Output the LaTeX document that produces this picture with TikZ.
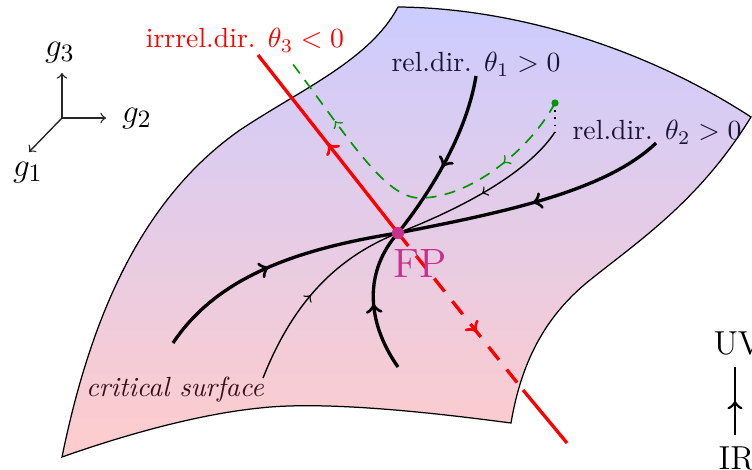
\documentclass[tikz,border=0pt]{standalone}
\usetikzlibrary{decorations.markings}
\definecolor{fpcol}{RGB}{200,48,140}
\definecolor{reltext}{RGB}{25,20,55}
\definecolor{crittext}{RGB}{55,15,25}
\definecolor{grn}{RGB}{0,150,0}
\begin{document}
\begin{tikzpicture}[x=0.361pt,y=-0.361pt,
  thickflow/.style={line width=1.2pt},
  thinflow/.style={line width=0.5pt},
  redline/.style={red,line width=1.2pt},
  reddash/.style={dash pattern=on 6pt off 4.5pt},
  greenflow/.style={grn,line width=0.6pt,dash pattern=on 4pt off 3pt},
  axisline/.style={black!85,line width=0.5pt,->},
  midarrow/.style={postaction={decorate},decoration={markings,mark=at position #1 with {\arrow{>}}}},
  twoarrows/.style 2 args={postaction={decorate},decoration={markings,mark=at position #1 with {\arrow{>}},mark=at position #2 with {\arrow{>}}}},
  lbl/.style={anchor=base,inner sep=0pt},
  dotnode/.style={circle,inner sep=0pt},
]
\clip (0,0) rectangle (752,470);

% surface
\shadedraw[top color=blue!20, bottom color=red!20, draw=black, line width=0.45pt]
  (398,7) .. controls (510,8) and (640,45) .. (751,117)
  .. controls (700,200) and (640,240) .. (590,280)
  .. controls (540,320) and (520,370) .. (511,423)
  .. controls (450,415) and (330,400) .. (260,408)
  .. controls (190,415) and (110,440) .. (62,457)
  .. controls (90,320) and (140,200) .. (240,130)
  .. controls (300,90) and (370,60) .. (398,7) -- cycle;

% axes
\coordinate (ax0) at (62,118);
\coordinate (ax3) at (62,73);
\coordinate (ax2) at (106,118);
\coordinate (ax1) at (29,152);
\draw[axisline] (ax0) -- (ax3);
\draw[axisline] (ax0) -- (ax2);
\draw[axisline] (ax0) -- (ax1);
\node[lbl,font=\fontsize{13}{15}\selectfont] (g3) at (60,57) {$g_3$};
\node[lbl,font=\fontsize{13}{15}\selectfont] (g2) at (137,123) {$g_2$};
\node[lbl,font=\fontsize{13}{15}\selectfont] (g1) at (28,177) {$g_1$};

\coordinate (fpc) at (398,233);

% red irrelevant direction
\coordinate (rtop) at (258,55);
\coordinate (redge) at (523,390);
\coordinate (rbot) at (567,443);
\draw[redline,midarrow=0.5] (fpc) -- (rtop);
\draw[redline,reddash,midarrow=0.63] (fpc) -- (redge);
\draw[redline] (redge) -- (rbot);

% green trajectory
\coordinate (gdot) at (555,103);
\coordinate (gmin) at (420,198);
\coordinate (gend) at (292,63);
\draw[greenflow,twoarrows={0.22}{0.8}] (gdot) .. controls (530,150) and (470,198) .. (gmin)
  .. controls (385,198) and (350,140) .. (gend);

% black flow lines
\coordinate (e1) at (476,76);
\coordinate (e2) at (656,143);
\coordinate (e3) at (555,132);
\coordinate (e4) at (173,343);
\coordinate (e5) at (263,378);
\coordinate (e6) at (398,367);
\draw[thickflow,midarrow=0.55] (e1) .. controls (468,125) and (440,180) .. (fpc);
\draw[thickflow,midarrow=0.5] (e2) .. controls (605,192) and (500,213) .. (fpc);
\draw[thinflow,midarrow=0.51] (e3) .. controls (530,170) and (470,205) .. (fpc);
\draw[thickflow,midarrow=0.48] (e4) .. controls (215,280) and (290,250) .. (fpc);
\draw[thinflow,midarrow=0.47] (e5) .. controls (290,310) and (330,260) .. (fpc);
\draw[thickflow,midarrow=0.47] (e6) .. controls (365,320) and (365,270) .. (fpc);
\draw[dotted,line width=0.6pt] (gdot) -- (e3);

% dots
\node[dotnode,fill=grn,minimum size=2.6pt] (gd) at (gdot) {};
\node[dotnode,fill=fpcol,minimum size=4.4pt] (fp) at (fpc) {};

% labels
\node[lbl,text=red] (irr) at (245,48) {irrrel.dir. $\theta_3<0$};
\node[lbl,text=reltext] (rel1) at (476,72) {rel.dir. $\theta_1>0$};
\node[lbl,text=reltext] (rel2) at (657,140) {rel.dir. $\theta_2>0$};
\node[lbl,text=crittext] (crit) at (175,397) {\itshape critical surface};
\node[lbl,text=fpcol,font=\fontsize{14.8}{17}\selectfont] (fplabel) at (420,278) {FP};

% UV / IR
\node[anchor=base west,inner sep=0pt,font=\large] (uv) at (713,355) {UV};
\node[anchor=base west,inner sep=0pt,font=\large] (ir) at (718,469) {IR};
\coordinate (uvarrowtop) at (735,367);
\coordinate (uvarrowbot) at (735,435);
\draw[line width=1pt,midarrow=0.5] (uvarrowbot) -- (uvarrowtop);
\end{tikzpicture}
\end{document}
